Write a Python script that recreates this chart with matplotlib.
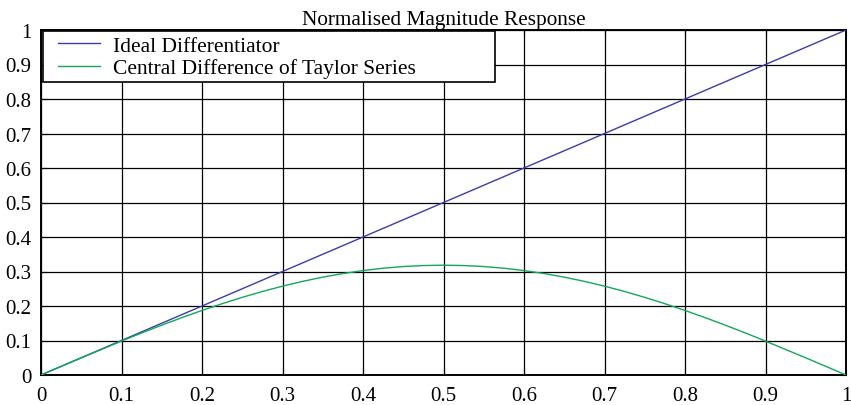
import matplotlib
matplotlib.use("Agg")
import matplotlib.pyplot as plt
from matplotlib.patches import Rectangle

# Data
freq = [0.0, 0.025, 0.05, 0.075, 0.1, 0.125, 0.15, 0.175, 0.2, 0.225, 0.25,
        0.275, 0.3, 0.325, 0.35, 0.375, 0.4, 0.425, 0.45, 0.475, 0.5,
        0.525, 0.55, 0.575, 0.6, 0.625, 0.65, 0.675, 0.7, 0.725, 0.75,
        0.775, 0.8, 0.825, 0.85, 0.875, 0.9, 0.925, 0.95, 0.975, 1.0]
ideal = [0.0, 0.025, 0.05, 0.075, 0.1, 0.125, 0.15, 0.175, 0.2, 0.225, 0.25,
         0.275, 0.3, 0.325, 0.35, 0.375, 0.4, 0.425, 0.45, 0.475, 0.5,
         0.525, 0.55, 0.575, 0.6, 0.625, 0.65, 0.675, 0.7, 0.725, 0.75,
         0.775, 0.8, 0.825, 0.85, 0.875, 0.9, 0.925, 0.95, 0.975, 1.0]
central = [0.0, 0.025, 0.0497, 0.0739, 0.0983, 0.1219, 0.1445, 0.1663, 0.1871, 0.2067, 0.2251,
           0.2421, 0.2575, 0.2714, 0.2836, 0.2941, 0.3027, 0.3095, 0.3144, 0.3173, 0.3183,
           0.3173, 0.3144, 0.3095, 0.3027, 0.2941, 0.2836, 0.2714, 0.2575, 0.2421, 0.2251,
           0.2067, 0.1871, 0.1663, 0.1445, 0.1219, 0.0983, 0.0739, 0.0497, 0.025, 0.0]
xticks = [0, 0.1, 0.2, 0.3, 0.4, 0.5, 0.6, 0.7, 0.8, 0.9, 1]
xticklabels = ["0", "0.1", "0.2", "0.3", "0.4", "0.5", "0.6", "0.7", "0.8", "0.9", "1"]
yticks = xticks
yticklabels = xticklabels
title = "Normalised Magnitude Response"
labels = ["Ideal Differentiator", "Central Difference of Taylor Series"]

plt.rcParams['font.family'] = ['Liberation Serif', 'DejaVu Serif']

fig = plt.figure(figsize=(8.51, 4.06), dpi=100)
ax = fig.add_axes([41/851, 30/406, 805/851, 345/406])

ax.plot(freq, ideal, color="#3c3ca8", lw=1.0, label=labels[0], zorder=3)
ax.plot(freq, central, color="#12a85a", lw=1.0, label=labels[1], zorder=3)

ax.set_xlim(0, 1)
ax.set_ylim(0, 1)
ax.set_xticks(xticks)
ax.set_xticklabels(xticklabels)
ax.set_yticks(yticks)
ax.set_yticklabels(yticklabels)
ax.grid(True, color="black", lw=0.9, ls="-")
ax.set_axisbelow(True)
ax.tick_params(direction="in", length=4, width=0.8, top=True, right=True,
               labelsize=15, colors="black")
ax.tick_params(axis="x", pad=8)
ax.tick_params(axis="y", pad=7)
for s in ax.spines.values():
    s.set_linewidth(1.4)
    s.set_color("black")

ax.set_title(title, fontsize=15.3, pad=4)

# legend frame (box) drawn separately so inner padding can differ by axis
frame = Rectangle((0.002, 0.848), 0.562, 0.150, transform=ax.transAxes,
                  facecolor="white", edgecolor="black", lw=1.2, zorder=4)
ax.add_patch(frame)

leg = ax.legend(loc="center left", bbox_to_anchor=(0.0215, 0.922),
                frameon=False, borderaxespad=0.0, borderpad=0.0,
                handlelength=1.95, handletextpad=0.6,
                labelspacing=0.12, fontsize=15.5)
leg.set_zorder(5)

fig.savefig("out.png", dpi=100)
